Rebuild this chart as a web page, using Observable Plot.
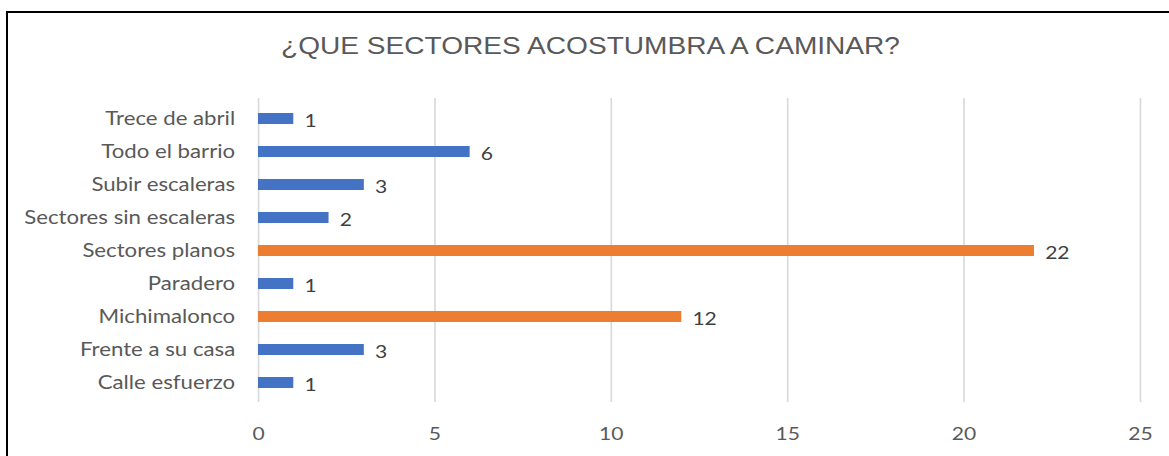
<!DOCTYPE html>
<html>
<head>
<meta charset="utf-8">
<script src="https://cdn.jsdelivr.net/npm/d3@7"></script>
<script src="https://cdn.jsdelivr.net/npm/@observablehq/plot@0.6"></script>
<style>
  html, body { margin: 0; padding: 0; background: #fff; overflow: hidden; }
  #page { position: relative; width: 1169px; height: 456px; }
  #frame { position: absolute; left: 6px; top: 11px; width: 1200px; height: 500px;
           border-top: 2px solid #000; border-left: 2px solid #000; box-sizing: border-box; }
  #title { position: absolute; left: 0; top: 32px; width: 1181px; text-align: center;
           font-family: "Liberation Sans", Arial, sans-serif; font-size: 24px; color: #595959; }
  #title span { display: inline-block; transform: scaleX(1.17); transform-origin: 50% 50%; }
  #chart { position: absolute; left: 0; top: 80px; transform: scaleX(1.17); transform-origin: 0 0; }
</style>
</head>
<body>
<div id="page">
  <div id="frame"></div>
  <div id="title"><span>¿QUE SECTORES ACOSTUMBRA A CAMINAR?</span></div>
  <div id="chart"></div>
</div>
<script>
const categories = ["Trece de abril", "Todo el barrio", "Subir escaleras", "Sectores sin escaleras",
  "Sectores planos", "Paradero", "Michimalonco", "Frente a su casa", "Calle esfuerzo"];
const values = [1, 6, 3, 2, 22, 1, 12, 3, 1];
const highlighted = [false, false, false, false, true, false, true, false, false];
const xTicks = [0, 5, 10, 15, 20, 25];

const data = categories.map((c, i) => ({category: c, value: values[i], hi: highlighted[i]}));
const blue = "#4472C4", orange = "#ED7D31";
const S = 1.17; // horizontal stretch of the original picture

const plot = Plot.plot({
  width: Math.round(1169 / S),
  height: 376,
  marginLeft: 258 / S,
  marginRight: 29 / S,
  marginTop: 18,
  marginBottom: 54,
  style: { fontFamily: "Lato, 'Open Sans', sans-serif", fontSize: "19px", color: "#595959", background: "transparent" },
  x: { domain: [0, 25], ticks: xTicks, label: null },
  y: { domain: categories, padding: 0, label: null },
  marks: [
    Plot.ruleX(xTicks, { stroke: "#d9d9d9", strokeWidth: 1.4 }),
    Plot.barX(data, { x: "value", y: "category", insetTop: 11, insetBottom: 11,
      fill: d => d.hi ? orange : blue }),
    Plot.text(data, { x: "value", y: "category", text: d => String(d.value), textAnchor: "start",
      dx: 9, dy: 2, fill: "#404040", fontSize: 18 }),
    Plot.axisX({ ticks: xTicks, tickSize: 0, tickPadding: 25, fontSize: 18, fill: "#595959" }),
    Plot.axisY({ tickSize: 0, tickPadding: 20, fontSize: 19, fill: "#595959" })
  ]
});
document.getElementById("chart").appendChild(plot);
</script>
</body>
</html>
